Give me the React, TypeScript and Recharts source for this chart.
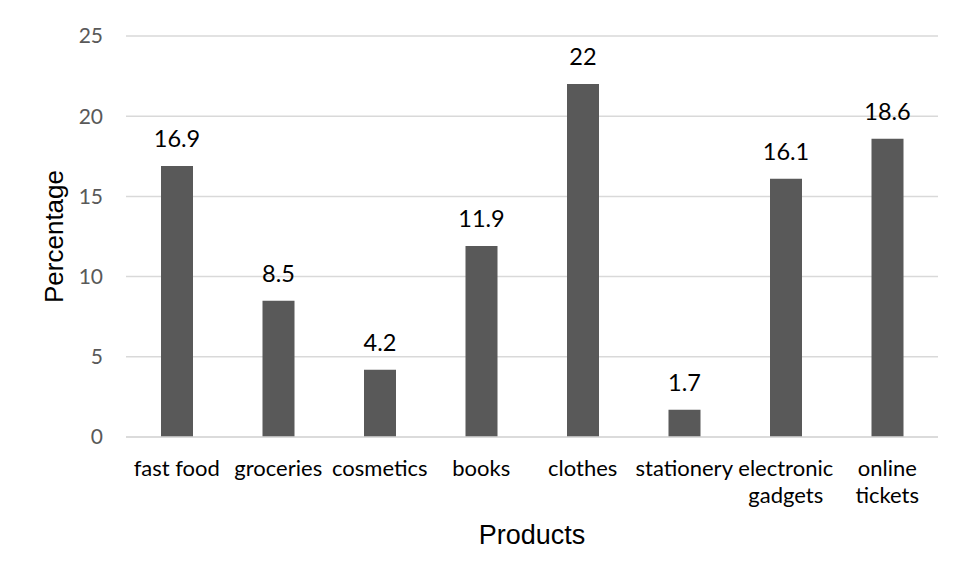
import { Bar, BarChart, CartesianGrid, Label, LabelList, XAxis, YAxis } from "recharts";

const categories = [
  "fast food",
  "groceries",
  "cosmetics",
  "books",
  "clothes",
  "stationery",
  "electronic\ngadgets",
  "online\ntickets",
];
const percentages = [16.9, 8.5, 4.2, 11.9, 22, 1.7, 16.1, 18.6];
const yTicks = [0, 5, 10, 15, 20, 25];

const rows = categories.map((name, i) => ({ name, value: percentages[i] }));

const LABEL_FONT = "Lato, 'Noto Sans', sans-serif";
const TITLE_FONT = "'Liberation Sans', Arial, sans-serif";

function CategoryTick(props: any) {
  const { x, y, payload } = props;
  const lines = String(payload.value).split("\n");
  return (
    <text x={x} y={y + 39} textAnchor="middle" fill="#000" fontSize={22} fontFamily={LABEL_FONT}>
      {lines.map((line, i) => (
        <tspan key={i} x={x} dy={i === 0 ? 0 : 27}>
          {line}
        </tspan>
      ))}
    </text>
  );
}

export default function App() {
  return (
    <div
      style={{
        marginLeft: -2,
        marginTop: -2,
        width: 949,
        height: 569,
        borderLeft: "2px solid #d9d9d9",
        borderTop: "2px solid #d9d9d9",
        background: "#fff",
      }}
    >
      <BarChart
        width={949}
        height={569}
        data={rows}
        margin={{ top: 28, right: 19, left: 0, bottom: 0 }}
      >
        <CartesianGrid vertical={false} stroke="#d9d9d9" strokeWidth={1.5} />
        <XAxis
          dataKey="name"
          height={140}
          interval={0}
          tickLine={false}
          tickSize={0}
          tickMargin={0}
          axisLine={{ stroke: "#d9d9d9", strokeWidth: 1.5 }}
          tick={<CategoryTick />}
        >
          <Label
            content={(p: any) => {
              const vb = p.viewBox;
              return (
                <text
                  x={vb.x + vb.width / 2}
                  y={vb.y + 107}
                  textAnchor="middle"
                  fill="#000"
                  fontSize={27}
                  fontFamily={TITLE_FONT}
                >
                  Products
                </text>
              );
            }}
          />
        </XAxis>
        <YAxis
          width={118}
          domain={[0, 25]}
          ticks={yTicks}
          tickLine={false}
          axisLine={false}
          tickSize={0}
          tickMargin={23}
          tick={{ fill: "#595959", fontSize: 21, fontFamily: LABEL_FONT }}
        >
          <Label
            content={(p: any) => {
              const vb = p.viewBox;
              const cx = vb.x + 55;
              const cy = vb.y + vb.height / 2;
              return (
                <text
                  x={cx}
                  y={cy}
                  transform={`rotate(-90 ${cx} ${cy})`}
                  textAnchor="middle"
                  fill="#000"
                  fontSize={26}
                  fontFamily={TITLE_FONT}
                >
                  Percentage
                </text>
              );
            }}
          />
        </YAxis>
        <Bar dataKey="value" fill="#595959" barSize={32} isAnimationActive={false}>
          <LabelList
            dataKey="value"
            position="top"
            offset={19}
            fill="#000"
            fontSize={23.5}
            fontFamily={LABEL_FONT}
          />
        </Bar>
      </BarChart>
    </div>
  );
}
